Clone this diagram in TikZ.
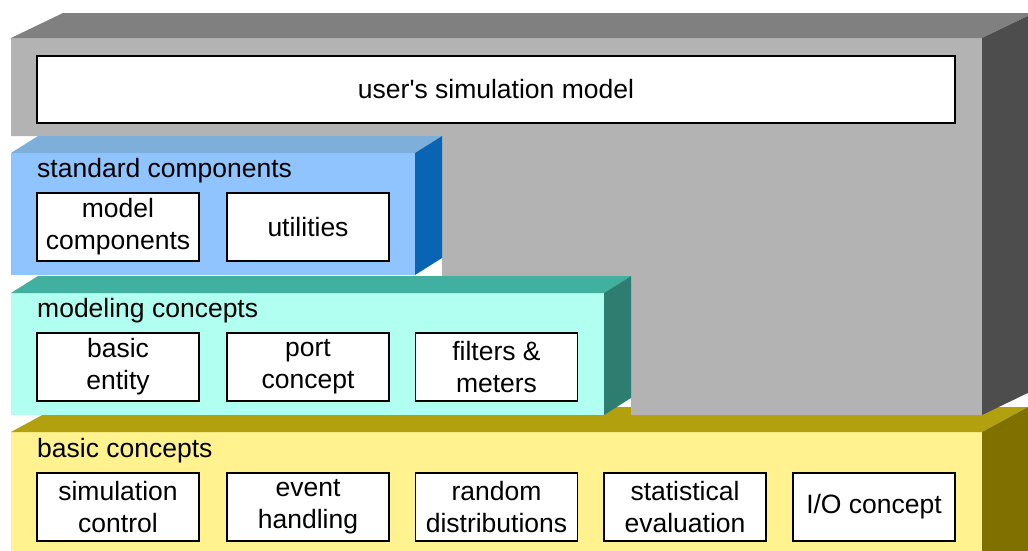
\documentclass[tikz,border=0pt]{standalone}
\usepackage{fontspec}
\setmainfont{Liberation Sans}
\usetikzlibrary{positioning}
\definecolor{grayfront}{RGB}{179,179,179}
\definecolor{graytop}{RGB}{128,128,128}
\definecolor{grayside}{RGB}{77,77,77}
\definecolor{bluefront}{RGB}{143,196,255}
\definecolor{bluetop}{RGB}{126,175,219}
\definecolor{blueside}{RGB}{10,100,180}
\definecolor{tealfront}{RGB}{176,255,240}
\definecolor{tealtop}{RGB}{64,176,160}
\definecolor{tealside}{RGB}{45,125,112}
\definecolor{yellowfront}{RGB}{255,242,143}
\definecolor{yellowtop}{RGB}{178,160,14}
\definecolor{yellowside}{RGB}{128,112,0}
\newcommand\lbl{\fontsize{26.5}{32}\selectfont}
\tikzset{%
   box/.style={draw=black, line width=1.6pt, fill=white, inner sep=0pt,
      minimum width=162pt, minimum height=68pt, align=center, font=\lbl},
   ttl/.style={anchor=west, inner sep=0pt, font=\lbl},
}

\begin{document}
\begin{tikzpicture}[x=1pt, y=-1pt]
      \useasboundingbox (0,0) rectangle (1028,550);
      \clip (0,0) rectangle (1028,550);
      \fill[yellowfront] (11,432) rectangle (982,560);
      \fill[yellowtop] (11,432) -- (982,432) -- (1028,407) -- (57,407) -- cycle;
      \fill[yellowside] (982,432) -- (1028,407) -- (1028,560) -- (982,560) -- cycle;
      \fill[grayfront] (11,38) -- (982,38) -- (982,415) -- (631,415) -- (631,276)
         -- (442,276) -- (442,136) -- (11,136) -- cycle;
      \fill[graytop] (11,38) -- (982,38) -- (1034,13) -- (63,13) -- cycle;
      \fill[grayside] (982,38) -- (1034,13) -- (1034,390) -- (982,415) -- cycle;
      \fill[tealfront] (11,293) rectangle (604,415);
      \fill[tealtop] (11,293) -- (604,293) -- (631,276) -- (38,276) -- cycle;
      \fill[tealside] (604,293) -- (631,276) -- (631,398) -- (604,415) -- cycle;
      \fill[bluefront] (11,153) rectangle (415,275);
      \fill[bluetop] (11,153) -- (415,153) -- (442,136) -- (38,136) -- cycle;
      \fill[blueside] (415,153) -- (442,136) -- (442,258) -- (415,275) -- cycle;
      \node[box, minimum width=918pt, minimum height=67pt] (um) at (496,89.5) {user\textquotesingle s simulation model};
      \node[ttl] (sc) at (37,171) {standard components};
      \node[box] (mc) at (118,227) {model\\components};
      \node[box] (ut) at (308,227) {utilities};
      \node[ttl] (mo) at (37,311) {modeling concepts};
      \node[box] (be) at (118,367) {basic\\entity};
      \node[box] (pc) at (308,367) {port\\concept};
      \node[box] (fm) at (496.5,367) {filters \&\\meters};
      \node[ttl] (bc) at (37,451) {basic concepts};
      \node[box] (sim) at (118,507) {simulation\\control};
      \node[box] (ev) at (308,507) {event\\handling};
      \node[box] (rd) at (496.5,507) {random\\distributions};
      \node[box] (se) at (685,507) {statistical\\evaluation};
      \node[box] (io) at (874,507) {I/O concept};
   \end{tikzpicture}
\end{document}
